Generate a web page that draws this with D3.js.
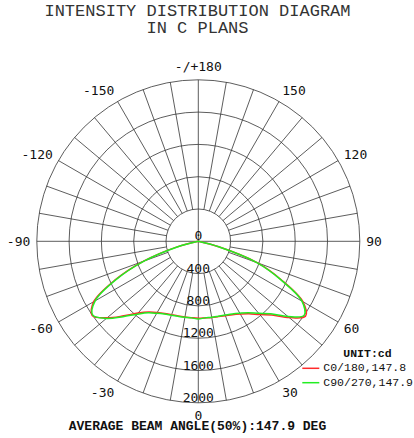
<!DOCTYPE html>
<html>
<head>
<meta charset="utf-8">
<script src="https://cdn.jsdelivr.net/npm/d3@7"></script>
<style>
  body { margin: 0; background: #fff; }
</style>
</head>
<body>
<div id="polar"></div>
<script>
// gamma angles of the measurement (0 = straight down)
var gammaDeg = [-90, -85, -80, -75, -70, -65, -60, -55, -50, -45, -40, -35, -30, -25, -20, -15, -10, -5,
                0, 5, 10, 15, 20, 25, 30, 35, 40, 45, 50, 55, 60, 65, 70, 75, 80, 85, 90];

// C0/180 plane, cd
var c0Values = [0, 0, 0, 280, 720, 1140, 1495, 1605, 1475, 1305, 1160, 1070, 1018, 985, 968, 958, 952, 950,
                952, 952, 958, 965, 980, 1002, 1040, 1095, 1185, 1290, 1470, 1620, 1495, 1140, 775, 262, 0, 0, 0];

// C90/270 plane, cd
var c90Values = [0, 0, 0, 270, 710, 1125, 1475, 1595, 1485, 1320, 1178, 1082, 1030, 995, 975, 962, 955, 952,
                 962, 952, 955, 960, 972, 992, 1028, 1080, 1165, 1270, 1450, 1600, 1482, 1130, 772, 260, 0, 0, 0];

var intensityTicks = [0, 400, 800, 1200, 1600, 2000];
var angleTicks = [180, 150, 120, 90, 60, 30, 0, -30, -60, -90, -120, -150];
var angleLabels = ["-/+180", "150", "120", "90", "60", "30", "0", "-30", "-60", "-90", "-120", "-150"];

var seriesNames = ["C0/180,147.8", "C90/270,147.9"];
var seriesColors = ["#ff2a2a", "#22ee22"];

var svgWidth = 414;
var svgHeight = 438;
var cx = 198.3;
var cy = 241.3;
var outerR = 161.5;

var svg = d3.select("#polar")
            .append("svg")
            .attr("width", svgWidth)
            .attr("height", svgHeight)
            .style("background", "#fff");

// radial scale for intensity
var rScale = d3.scaleLinear()
    .domain([0, d3.max(intensityTicks)])
    .range([0, outerR]);

var toRad = function(deg) { return deg * Math.PI / 180; };

// position of a point for gamma (deg) and radius (px)
function px(g, r) { return cx + r * Math.sin(toRad(g)); }
function py(g, r) { return cy + r * Math.cos(toRad(g)); }

var chartGroup = svg.append("g")
                    .attr("transform", `translate(${cx}, ${cy})`);

// rings
chartGroup.selectAll("circle.ring")
    .data(intensityTicks.filter(d => d > 0))
    .enter()
    .append("circle")
    .attr("class", "ring")
    .attr("r", d => rScale(d))
    .attr("fill", "none")
    .attr("stroke", "#333")
    .attr("stroke-width", 0.8);

// spokes every 10 deg, the main axes run through the centre
var spokes = d3.range(0, 360, 10);
chartGroup.selectAll("line.spoke")
    .data(spokes)
    .enter()
    .append("line")
    .attr("class", "spoke")
    .attr("x1", d => (d % 90 === 0 ? 0 : rScale(400)) * Math.sin(toRad(d)))
    .attr("y1", d => (d % 90 === 0 ? 0 : rScale(400)) * Math.cos(toRad(d)))
    .attr("x2", d => outerR * Math.sin(toRad(d)))
    .attr("y2", d => outerR * Math.cos(toRad(d)))
    .attr("stroke", "#333")
    .attr("stroke-width", 0.8);

// intensity labels along the downward axis
svg.selectAll("text.rlabel")
    .data(intensityTicks)
    .enter()
    .append("text")
    .attr("class", "rlabel")
    .attr("x", cx)
    .attr("y", d => cy + rScale(d) - 1)
    .attr("text-anchor", "middle")
    .attr("font-family", "DejaVu Sans Mono")
    .attr("font-size", "13px")
    .attr("fill", "#111")
    .text(d => d);

// angle labels
svg.selectAll("text.alabel")
    .data(angleTicks)
    .enter()
    .append("text")
    .attr("class", "alabel")
    .attr("x", d => px(d, 168))
    .attr("y", d => py(d, 174.5))
    .attr("dy", "0.36em")
    .attr("text-anchor", function(d) {
        var s = Math.sin(toRad(d));
        if (s > 0.01) return "start";
        if (s < -0.01) return "end";
        return "middle";
    })
    .attr("font-family", "DejaVu Sans Mono")
    .attr("font-size", "13px")
    .attr("fill", "#111")
    .text((d, i) => angleLabels[i]);

// curves
var radialLine = d3.lineRadial()
    .angle(d => Math.PI - toRad(d.g))
    .radius(d => rScale(d.v))
    .curve(d3.curveCatmullRom.alpha(0.5));

var series = [c0Values, c90Values].map(function(vals) {
    return gammaDeg.map((g, i) => ({ g: g, v: vals[i] }));
});

chartGroup.selectAll("path.curve")
    .data(series)
    .enter()
    .append("path")
    .attr("class", "curve")
    .attr("d", radialLine)
    .attr("fill", "none")
    .attr("stroke", (d, i) => seriesColors[i])
    .attr("stroke-width", 1.5);

// titles
svg.append("text")
    .attr("x", 197.5)
    .attr("y", 16)
    .attr("text-anchor", "middle")
    .attr("font-family", "Liberation Mono")
    .attr("font-size", "17px")
    .attr("fill", "#333")
    .text("INTENSITY DISTRIBUTION DIAGRAM");

svg.append("text")
    .attr("x", 197.5)
    .attr("y", 33.3)
    .attr("text-anchor", "middle")
    .attr("font-family", "Liberation Mono")
    .attr("font-size", "17px")
    .attr("fill", "#333")
    .text("IN C PLANS");

svg.append("text")
    .attr("x", 197.5)
    .attr("y", 430)
    .attr("text-anchor", "middle")
    .attr("font-family", "Liberation Mono")
    .attr("font-weight", "bold")
    .attr("font-size", "13px")
    .attr("fill", "#111")
    .text("AVERAGE BEAM ANGLE(50%):147.9 DEG");

// legend
svg.append("text")
    .attr("x", 343.3)
    .attr("y", 356.7)
    .attr("font-family", "Liberation Mono")
    .attr("font-weight", "bold")
    .attr("font-size", "11.5px")
    .attr("fill", "#111")
    .text("UNIT:cd");

var legend = svg.selectAll("g.legend")
    .data(seriesNames)
    .enter()
    .append("g")
    .attr("class", "legend")
    .attr("transform", (d, i) => `translate(302.3, ${368.3 + i * 14.4})`);

legend.append("line")
    .attr("x1", 0)
    .attr("x2", 17)
    .attr("stroke", (d, i) => seriesColors[i])
    .attr("stroke-width", 1.5);

legend.append("text")
    .attr("x", 21)
    .attr("y", 3)
    .attr("font-family", "Liberation Mono")
    .attr("font-size", "11.5px")
    .attr("fill", "#111")
    .text(d => d);
</script>
</body>
</html>
